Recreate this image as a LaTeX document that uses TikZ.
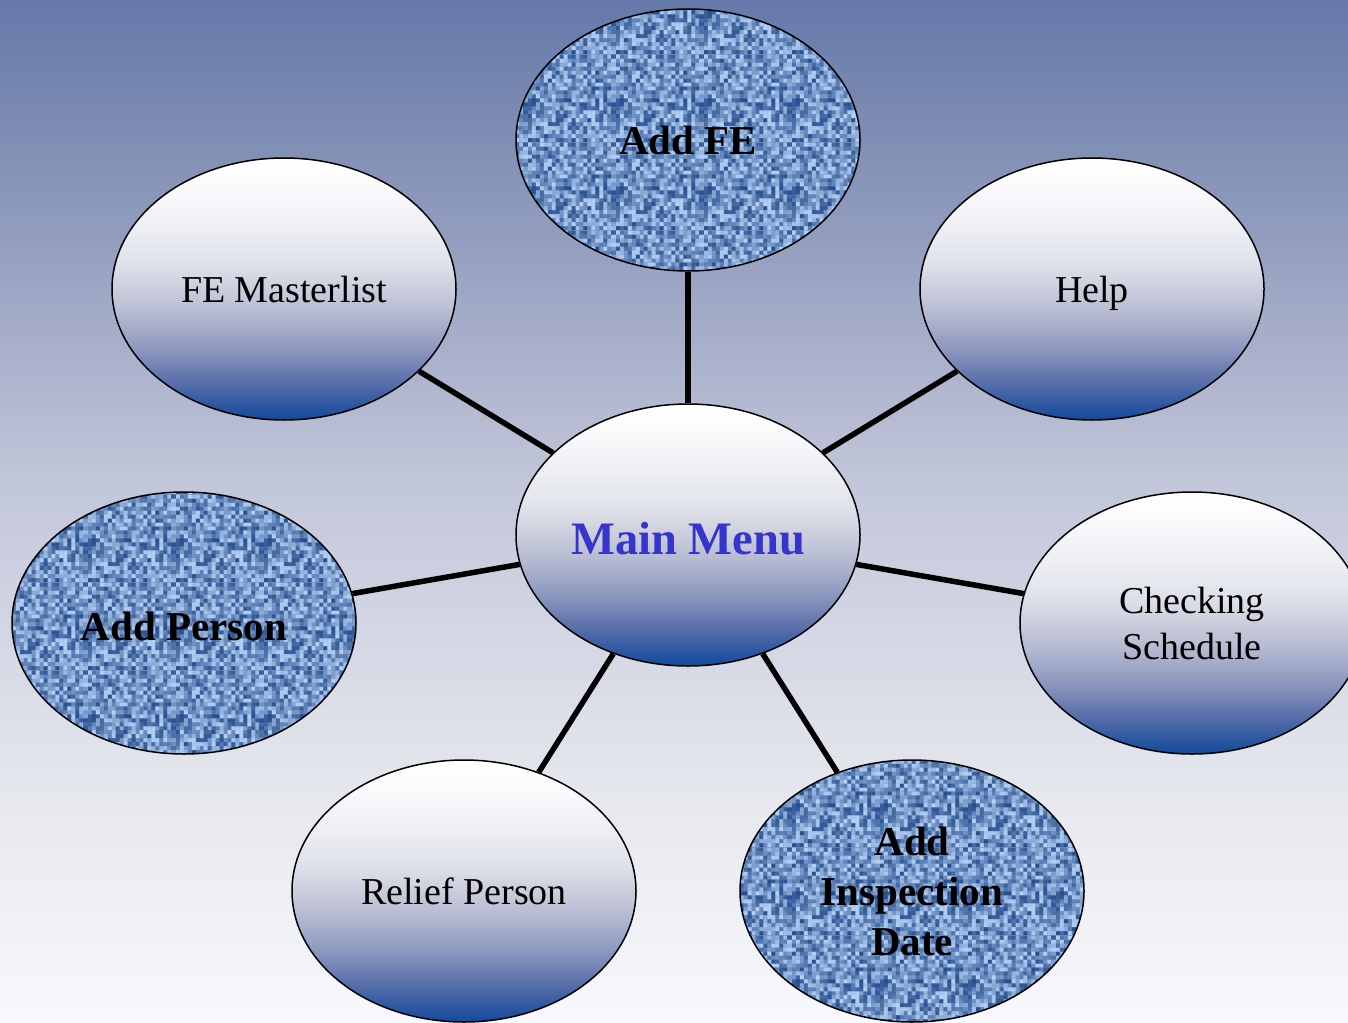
\documentclass[tikz,border=0pt]{standalone}
\usepackage{fontspec}
\setmainfont{Liberation Serif}
\usetikzlibrary{shapes.geometric,patterns}
\definecolor{tlight}{HTML}{B6D1F5}
\definecolor{tdark}{HTML}{27508F}
\definecolor{tmid}{HTML}{6F90C2}
\definecolor{mmblue}{HTML}{3535CC}
\pgfdeclareverticalshading{bggrad}{100bp}{%
  color(0bp)=(rgb,255:red,248;green,249;blue,253);
  color(25bp)=(rgb,255:red,248;green,249;blue,253);
  color(35.9bp)=(rgb,255:red,230;green,232;blue,238);
  color(51.5bp)=(rgb,255:red,194;green,198;blue,218);
  color(54bp)=(rgb,255:red,184;green,189;blue,211);
  color(67.6bp)=(rgb,255:red,130;green,144;blue,181);
  color(75bp)=(rgb,255:red,101;green,121;blue,170);
  color(100bp)=(rgb,255:red,101;green,121;blue,170)}
\pgfdeclareverticalshading{ballgrad}{100bp}{%
  color(0bp)=(rgb,255:red,19;green,75;blue,155);
  color(25bp)=(rgb,255:red,19;green,75;blue,155);
  color(27.5bp)=(rgb,255:red,42;green,85;blue,160);
  color(32.5bp)=(rgb,255:red,90;green,112;blue,170);
  color(37.5bp)=(rgb,255:red,133;green,145;blue,187);
  color(45bp)=(rgb,255:red,180;green,185;blue,208);
  color(50bp)=(rgb,255:red,203;green,205;blue,220);
  color(55bp)=(rgb,255:red,223;green,225;blue,234);
  color(62.5bp)=(rgb,255:red,239;green,240;blue,244);
  color(70bp)=(rgb,255:red,251;green,251;blue,253);
  color(75bp)=(white);
  color(100bp)=(white)}
\pgfmathsetseed{4242}
\pgfdeclarepatterninherentlycolored{weave}{\pgfpointorigin}{\pgfpoint{88pt}{88pt}}{\pgfpoint{88pt}{88pt}}{%
  \foreach \i in {0,...,21}{%
    \foreach \j in {0,...,21}{%
      \pgfmathtruncatemacro\rr{random(0,100)}%
      \pgfsetfillcolor{tlight!\rr!tdark}%
      \pgfpathrectangle{\pgfpoint{\i*4pt}{\j*4pt}}{\pgfpoint{4.2pt}{4.2pt}}%
      \pgfusepath{fill}%
    }%
  }%
}
\tikzset{
  bubble/.style={ellipse, draw=black, line width=1.5pt, minimum width=344pt,
    minimum height=262pt, inner sep=0pt, align=center},
  grad/.style={bubble, shading=ballgrad, text=black,
    font=\fontsize{38}{46}\selectfont},
  oneline/.style={text height=34pt, text depth=8pt},
  woven/.style={bubble, preaction={fill=tmid}, pattern=weave, text=black,
    font=\fontsize{41}{50}\selectfont\bfseries},
  conn/.style={line width=5.5pt, draw=black}
}
\begin{document}
\begin{tikzpicture}[x=1pt,y=-1pt]
\useasboundingbox (0,0) rectangle (1348,1022);
\clip (0,0) rectangle (1348,1022);
\shade[shading=bggrad] (0,0) rectangle (1348,1022);

\node[grad, font=\fontsize{46.5}{52}\selectfont\bfseries, text=mmblue,
  text height=38pt, text depth=0pt] (main) at (688,535) {Main Menu};
\node[woven] (addfe) at (688,140) {Add FE};
\node[grad, oneline] (master) at (284,289) {FE Masterlist};
\node[grad, oneline] (help) at (1092,289) {Help};
\node[woven, text height=34pt, text depth=0pt] (addperson) at (184,623) {Add Person};
\node[grad] (check) at (1192,623) {Checking\\ Schedule};
\node[grad, oneline] (relief) at (464,891) {Relief Person};
\node[woven] (addinsp) at (912,891) {Add\\Inspection\\Date};

\draw[conn] (main) -- (addfe);
\draw[conn] (main) -- (master);
\draw[conn] (main) -- (help);
\draw[conn] (main) -- (addperson);
\draw[conn] (main) -- (check);
\draw[conn] (main) -- (relief);
\draw[conn] (main) -- (addinsp);
\end{tikzpicture}
\end{document}
